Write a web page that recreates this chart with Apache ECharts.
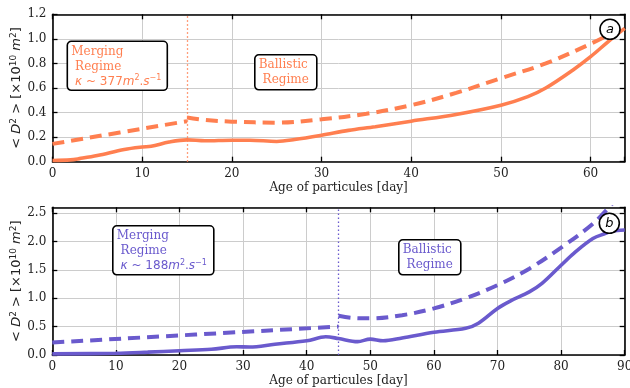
<!DOCTYPE html>
<html>
<head>
<meta charset="utf-8">
<script src="https://cdn.jsdelivr.net/npm/echarts@6/dist/echarts.min.js"></script>
<style>
  html, body { margin: 0; padding: 0; background: #fff; }
  #chart { width: 630px; height: 388px; }
</style>
</head>
<body>
<div id="chart"></div>
<script>
// Panel (a): mean squared pair separation vs. particle age, coral
const aDays = [0, 2, 3, 5, 8, 10, 11, 13, 15, 17, 20, 22, 25, 27, 30, 33, 36, 40, 45, 50, 53, 55, 58, 60, 62, 63.8];
const aMeasured = [0.01, 0.015, 0.025, 0.05, 0.10, 0.12, 0.125, 0.16, 0.178, 0.17, 0.175, 0.175, 0.165, 0.18, 0.215, 0.255, 0.285, 0.33, 0.385, 0.46, 0.53, 0.60, 0.745, 0.855, 0.98, 1.085];
const aMergeDays = [0, 15];
const aMergeFit = [0.145, 0.33];
const aBallDays = [15, 17, 20, 25, 30, 35, 40, 45, 50, 55, 60, 63.8];
const aBallFit = [0.36, 0.34, 0.326, 0.318, 0.345, 0.39, 0.46, 0.56, 0.68, 0.80, 0.96, 1.10];
const aTransition = 15;

// Panel (b): same quantity, slate blue
const bDays = [0, 10, 15, 20, 25, 29, 31, 35, 40, 43, 45, 48, 50, 52, 55, 60, 65, 67, 70, 72, 75, 77, 80, 82, 85, 87, 88, 90];
const bMeasured = [0.02, 0.03, 0.05, 0.075, 0.10, 0.145, 0.14, 0.19, 0.25, 0.32, 0.29, 0.235, 0.28, 0.25, 0.30, 0.40, 0.47, 0.56, 0.82, 0.95, 1.11, 1.26, 1.58, 1.79, 2.05, 2.14, 2.18, 2.20];
const bMergeDays = [0, 45];
const bMergeFit = [0.22, 0.50];
const bBallDays = [45, 47, 50, 55, 60, 65, 70, 75, 80, 85, 88];
const bBallFit = [0.69, 0.655, 0.645, 0.70, 0.82, 1.0, 1.23, 1.52, 1.89, 2.31, 2.66];
const bTransition = 45;

const aTicksY = { min: 0, max: 1.2, interval: 0.2 };
const bTicksY = { min: 0, max: 2.6, interval: 0.5 };
const aRangeX = { min: 0, max: 63.8, interval: 10 };
const bRangeX = { min: 0, max: 90, interval: 10 };

const CORAL = '#ff7f50';
const SLATE = '#6a5acd';
const SERIF = 'DejaVu Serif';
const SANS = 'DejaVu Sans';

const pairs = (xs, ys) => xs.map((x, i) => [x, ys[i]]);

const chart = echarts.init(document.getElementById('chart'), null, { renderer: 'canvas' });

const axisLine = { show: true, onZero: false, lineStyle: { color: '#000', width: 1.6 } };
const tickIn = { show: true, inside: true, length: 5, lineStyle: { color: '#000', width: 1.3 } };
const tickLabel = { color: '#222', fontFamily: SERIF, fontSize: 12, margin: 6 };
const grid = { show: true, lineStyle: { color: '#cccccc', width: 1 } };

const fmtX = v => (Math.abs(v % 10) < 1e-9 ? String(v) : '');
const fmtY = v => v.toFixed(1);

// mathtext-like rich styles: upright, italic and raised superscript
function mathRich(color, size) {
  const base = { fill: color, color, fontSize: size, lineHeight: 15 };
  return {
    s: { ...base, fontFamily: SERIF, fontSize: 12 },
    m: { ...base, fontFamily: SANS },
    mi: { ...base, fontFamily: SANS, fontStyle: 'italic' },
    sup: { ...base, fontFamily: SANS, fontSize: Math.round(size * 0.7), verticalAlign: 'top', lineHeight: 15 }
  };
}
const yNameText = '{m|< }{mi|D}{sup|2}{m| > [×10}{sup|10}{m| }{mi|m}{sup|2}{m|]}';

function xAxes(gridIndex, range) {
  return [
    {
      type: 'value', gridIndex, position: 'bottom', ...range,
      axisLine, axisTick: tickIn, splitLine: grid,
      axisLabel: { ...tickLabel, formatter: fmtX },
      name: 'Age of particules [day]', nameLocation: 'middle', nameGap: 20,
      nameTextStyle: { fontFamily: SERIF, fontSize: 12, color: '#222' }
    },
    {
      type: 'value', gridIndex, position: 'top', ...range,
      axisLine, axisTick: tickIn, splitLine: { show: false }, axisLabel: { show: false }
    }
  ];
}

function yAxes(gridIndex, range) {
  return [
    {
      type: 'value', gridIndex, position: 'left', ...range,
      axisLine, axisTick: tickIn, splitLine: grid,
      axisLabel: { ...tickLabel, formatter: fmtY },
      name: yNameText, nameLocation: 'middle', nameRotate: 90, nameGap: 28,
      nameMoveOverlap: false,
      nameTextStyle: { rich: mathRich('#222', 13) }
    },
    {
      type: 'value', gridIndex, position: 'right', ...range,
      axisLine, axisTick: tickIn, splitLine: { show: false }, axisLabel: { show: false }
    }
  ];
}

function lineSeries(xi, yi, data, color, dashed, extra) {
  return Object.assign({
    type: 'line', xAxisIndex: xi, yAxisIndex: yi, data,
    showSymbol: false, symbol: 'none', smooth: 0.35, clip: true,
    lineStyle: { color, width: dashed ? 4 : 3.6, type: dashed ? [12, 7] : 'solid', cap: 'butt' },
    z: 3
  }, extra || {});
}

function divider(x, color) {
  return {
    silent: true, symbol: 'none', animation: false,
    label: { show: false },
    lineStyle: { color, type: [1.5, 2.5], width: 1.3, opacity: 1 },
    emphasis: { disabled: true },
    data: [{ xAxis: x }]
  };
}

// Annotation boxes and panel tags
function box(x, y, w, h, color, text) {
  return {
    type: 'group', left: x, top: y,
    children: [
      { type: 'rect', z: 100, shape: { x: 0, y: 0, width: w, height: h, r: 4 },
        style: { fill: '#fff', stroke: '#000', lineWidth: 1.6 } },
      { type: 'text', z: 101, x: 4, y: 3,
        style: { text, rich: mathRich(color, 12), fill: color, lineHeight: 15 } }
    ]
  };
}
function tag(cx, cy, letter) {
  return {
    type: 'group', x: cx, y: cy,
    children: [
      { type: 'circle', z: 100, shape: { cx: 0, cy: 0, r: 10 },
        style: { fill: '#fff', stroke: '#000', lineWidth: 1.6 } },
      { type: 'text', z: 101, x: 0, y: 0,
        style: { text: letter, fontFamily: SANS, fontStyle: 'italic', fontSize: 13,
                 fill: '#000', align: 'center', verticalAlign: 'middle' } }
    ]
  };
}

const kappaA = '{m| }{mi|κ}{m| ~ 377}{mi|m}{sup|2}{m|.}{mi|s}{sup|−1}';
const kappaB = '{m| }{mi|κ}{m| ~ 188}{mi|m}{sup|2}{m|.}{mi|s}{sup|−1}';

const option = {
  animation: false,
  backgroundColor: '#fff',
  grid: [
    { left: 52.5, top: 14.3, right: 5.3, height: 147.4, containLabel: false, outerBoundsMode: 'none' },
    { left: 52.3, top: 207.3, right: 5.3, height: 147.7, containLabel: false, outerBoundsMode: 'none' }
  ],
  xAxis: [...xAxes(0, aRangeX), ...xAxes(1, bRangeX)],
  yAxis: [...yAxes(0, aTicksY), ...yAxes(1, bTicksY)],
  series: [
    lineSeries(0, 0, pairs(aMergeDays, aMergeFit), CORAL, true, { markLine: divider(aTransition, CORAL) }),
    lineSeries(0, 0, pairs(aBallDays, aBallFit), CORAL, true),
    lineSeries(0, 0, pairs(aDays, aMeasured), CORAL, false),
    lineSeries(2, 2, pairs(bMergeDays, bMergeFit), SLATE, true, { markLine: divider(bTransition, SLATE) }),
    lineSeries(2, 2, pairs(bBallDays, bBallFit), SLATE, true),
    lineSeries(2, 2, pairs(bDays, bMeasured), SLATE, false)
  ],
  graphic: [
    box(66.5, 40.5, 100, 49, CORAL, '{s|Merging}\n{s| Regime}\n' + kappaA),
    box(254, 54, 62, 35, CORAL, '{s|Ballistic}\n{s| Regime}'),
    box(112, 225, 101, 49, SLATE, '{s|Merging}\n{s| Regime}\n' + kappaB),
    box(398, 239, 62, 35, SLATE, '{s|Ballistic}\n{s| Regime}'),
    tag(610, 29.3, 'a'),
    tag(609.3, 223.3, 'b')
  ]
};

chart.setOption(option);
</script>
</body>
</html>
